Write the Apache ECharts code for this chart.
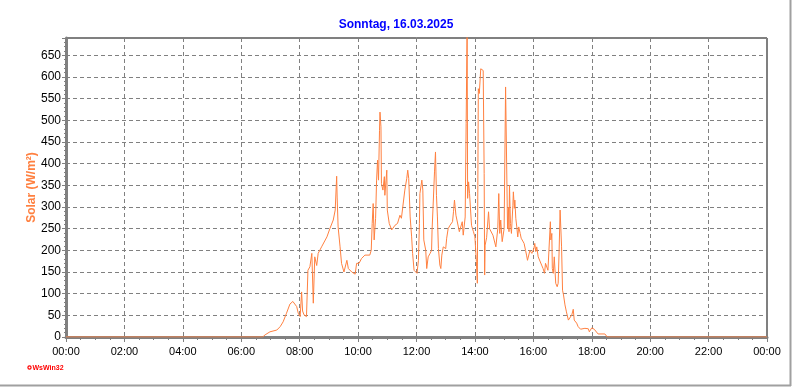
<!DOCTYPE html>
<html>
<head>
<meta charset="utf-8">
<script src="https://cdn.jsdelivr.net/npm/echarts@6/dist/echarts.min.js"></script>
<style>
html,body{margin:0;padding:0;background:#fff;}
#chart{width:792px;height:387px;}
</style>
</head>
<body>
<div id="chart"></div>
<script>
const titleText = 'Sonntag, 16.03.2025';
const yAxisName = 'Solar (W/m²)';
// minutes since midnight
const times = [0,404,409,419,433,440,446,453,460,466,470,474,477,481,484,486,489,494,497,501,505,508,511,515,518,525,536,542,549,553,556,557,559,563,566,571,577,580,587,594,597,602,607,614,624,627,629,631,633,636,638,640,642,644,645,647,648,651,654,655,659,660,664,669,672,676,681,686,689,693,696,700,702,704,707,710,712,715,718,721,724,726,727,731,733,735,739,741,744,748,751,752,754,757,759,761,763,765,768,770,772,775,780,782,785,789,794,796,798,801,804,806,808,811,814,816,818,820,822,824,825,827,829,831,833,835,837,840,842,843,845,846,847,849,851,852,855,857,859,860,861,864,867,868,870,872,874,877,880,883,887,889,891,893,896,899,900,902,903,906,907,909,910,911,913,915,918,919,921,922,924,926,928,930,933,935,938,941,944,946,948,952,953,957,959,961,963,965,967,970,974,977,980,983,985,987,990,993,995,996,998,999,1001,1003,1006,1009,1011,1013,1015,1017,1018,1020,1022,1025,1028,1032,1035,1039,1042,1044,1049,1052,1057,1061,1066,1073,1075,1080,1085,1093,1107,1112,1440];
const solar = [0,0,5,12,16,24,35,55,76,82,85,70,55,47,104,60,51,47,154,162,193,78,185,165,193,208,231,250,270,293,371,323,254,208,170,150,177,158,150,145,170,170,181,189,189,200,262,308,224,274,362,408,362,477,519,485,354,339,370,327,385,293,262,247,243,258,262,281,274,278,339,366,385,366,277,231,193,154,150,147,177,262,331,362,339,224,200,158,185,193,200,247,300,381,427,327,277,204,166,158,189,208,204,228,250,258,266,289,316,281,277,254,243,247,266,235,231,277,493,720,320,358,331,335,258,250,243,231,235,174,124,350,573,562,562,619,615,615,377,143,212,229,229,289,250,247,250,235,235,208,250,331,239,270,220,220,250,250,577,577,250,300,243,350,262,239,304,335,297,316,274,254,231,254,239,228,228,216,200,189,177,181,200,193,197,204,216,197,208,185,181,166,158,147,170,170,154,158,266,224,239,158,147,185,124,116,124,200,293,297,208,108,97,74,58,39,35,51,64,39,32,24,18,16,20,19,12,21,18,7,7,0,0];
const xTickHours = [0,2,4,6,8,10,12,14,16,18,20,22,24];

const data = times.map((t, i) => [t, solar[i]]);
const pad = n => (n < 10 ? '0' : '') + n;

const chart = echarts.init(document.getElementById('chart'), null, {renderer: 'canvas'});
chart.setOption({
  animation: false,
  backgroundColor: '#ffffff',
  title: {
    text: titleText,
    left: 'center',
    top: 14,
    textStyle: {color: '#0000ff', fontSize: 12, fontWeight: 'bold', fontFamily: "'Liberation Sans Narrow','Liberation Sans',Arial,sans-serif"}
  },
  grid: {left: 66, right: 25, top: 38, bottom: 50, show: true, borderColor: '#000', borderWidth: 1},
  xAxis: {
    type: 'value', min: 0, max: 1440, interval: 120,
    axisLine: {show: true, onZero: false, lineStyle: {color: '#808080', width: 3}},
    axisTick: {show: true, length: 5, lineStyle: {color: '#808080', width: 1}},
    minorTick: {show: true, splitNumber: 4, length: 3, lineStyle: {color: '#808080'}},
    axisLabel: {
      margin: 9, color: '#000', fontSize: 11, fontFamily: "'Liberation Sans',Arial,sans-serif",
      formatter: v => { const h = Math.round(v / 60) % 24; return xTickHours.indexOf(Math.round(v/60)) >= 0 ? pad(h) + ':00' : ''; }
    },
    splitLine: {show: true, lineStyle: {color: '#808080', type: [4, 3], width: 1}}
  },
  yAxis: {
    type: 'value', min: 0, max: 690, interval: 50,
    name: yAxisName, nameLocation: 'middle', nameGap: 28, nameRotate: 90, nameMoveOverlap: false,
    nameTextStyle: {color: '#ff8040', fontSize: 12, fontWeight: 'bold', fontFamily: "'Liberation Sans',Arial,sans-serif"},
    axisLine: {show: true, lineStyle: {color: '#808080', width: 3}},
    axisTick: {show: true, length: 4, lineStyle: {color: '#808080'}},
    minorTick: {show: true, splitNumber: 5, length: 2, lineStyle: {color: '#808080'}},
    axisLabel: {
      margin: 5, color: '#000', fontSize: 12, fontFamily: "'Liberation Sans',Arial,sans-serif",
      formatter: v => (v > 650 ? '' : String(v))
    },
    splitLine: {show: true, lineStyle: {color: '#808080', type: [4, 3], width: 1}}
  },
  series: [{
    type: 'line', data: data, showSymbol: false, clip: true,
    lineStyle: {color: '#ff8040', width: 1},
    itemStyle: {color: '#ff8040'}
  }],
  graphic: [
    {type: 'line', shape: {x1: 790.5, y1: 0, x2: 790.5, y2: 386}, style: {stroke: '#a0a0a0', lineWidth: 2}},
    {type: 'line', shape: {x1: 0, y1: 385.5, x2: 791, y2: 385.5}, style: {stroke: '#a0a0a0', lineWidth: 2}},
    {type: 'circle', shape: {cx: 29.5, cy: 367.5, r: 1.6}, style: {stroke: '#ff0000', fill: 'none', lineWidth: 1.2}},
    {type: 'text', x: 32.5, y: 368, style: {text: 'WsWin32', fill: '#ff0000', fontSize: 7, fontWeight: 'bold', fontFamily: "'Liberation Sans',Arial,sans-serif", textVerticalAlign: 'middle'}}
  ]
});
</script>
</body>
</html>
